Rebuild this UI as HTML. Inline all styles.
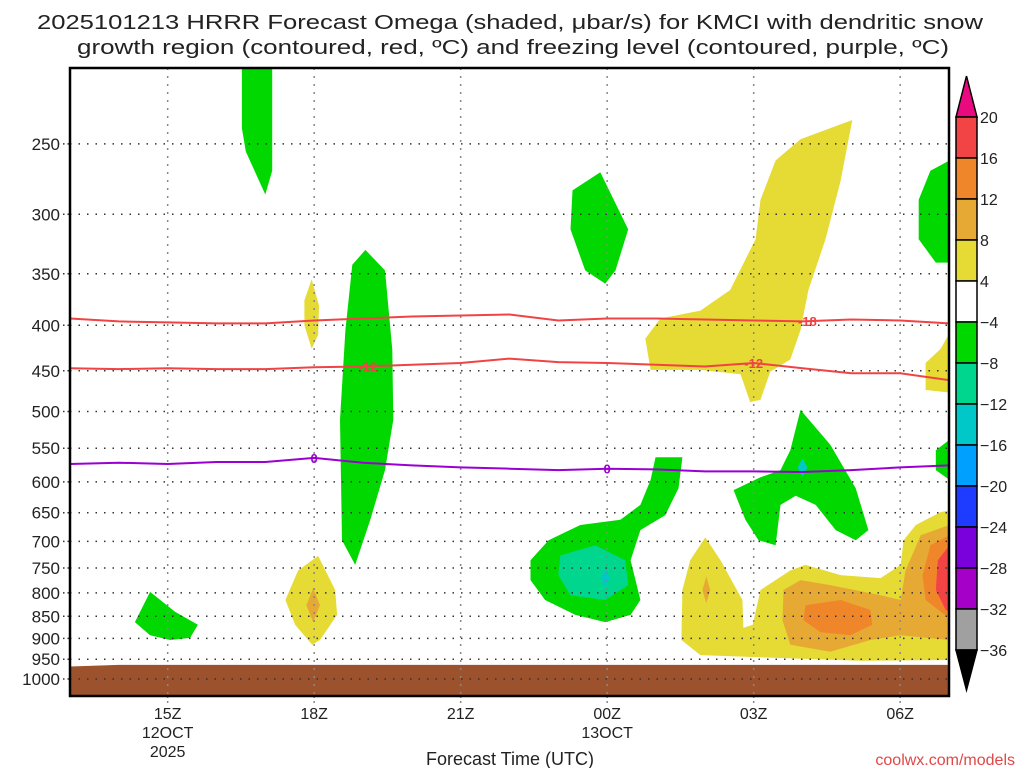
<!DOCTYPE html>
<html><head><meta charset="utf-8"><style>
html,body{margin:0;padding:0;background:#fff;}
svg{display:block;font-family:"Liberation Sans",sans-serif;}
</style></head><body>
<svg id="c" width="1024" height="768" viewBox="0 0 1024 768">
<text x="510" y="29" text-anchor="middle" font-size="20" fill="#222" textLength="946" lengthAdjust="spacingAndGlyphs">2025101213 HRRR Forecast Omega (shaded, μbar/s) for KMCI with dendritic snow</text>
<text x="513" y="54" text-anchor="middle" font-size="20" fill="#222" textLength="872" lengthAdjust="spacingAndGlyphs">growth region (contoured, red, ºC) and freezing level (contoured, purple, ºC)</text>
<text x="510" y="765" text-anchor="middle" font-size="18" fill="#222">Forecast Time (UTC)</text>
<text x="1015" y="765" text-anchor="end" font-size="16" fill="#e04848">coolwx.com/models</text>
<g id="plot"></g>
<g id="cbar"></g>
</svg>
<script>
// ---- data ----
const hours = [0,1,2,3,4,5,6,7,8,9,10,11,12,13,14,15,16,17,18];
const minus18Line = [393,396,397,398,398,395,393,391,390,389,395,393,393,394,395,396,394,395,398];
const minus12Line = [447,448,447,448,448,446,445,443,441,436,440,441,443,445,441,447,453,453,461];
const freezeLine = [573,571,573,570,570,564,571,575,578,580,582,580,581,584,584,585,582,578,575];
const surfaceP = [968,964,964,964,964,964,964,964,964,964,964,964,964,964,964,964,964,964,964];
const pTicks = [250,300,350,400,450,500,550,600,650,700,750,800,850,900,950,1000];
const xTickHours = [2,5,8,11,14,17];
const xTickLabels = [["15Z","12OCT","2025"],["18Z"],["21Z"],["00Z","13OCT"],["03Z"],["06Z"]];
const cbLevels = [20,16,12,8,4,-4,-8,-12,-16,-20,-24,-28,-32,-36];
const cbColors = ["#f24444","#f0862a","#e6aa34","#e6da34","#ffffff","#00d800","#00d68e","#00c8c8","#00a0ff","#1e3cff","#7a00dc","#a400c8","#a0a0a0"];
// shaded regions: [hour, pressure] pairs
const blobs = [
 {c:"#00d800",n:"green-top-strip",pts:[[3.52,205],[4.14,205],[4.14,268],[4.0,285],[3.6,255],[3.52,240]]},
 {c:"#00d800",n:"green-19z",pts:[[6.05,329],[6.45,347],[6.6,426],[6.62,511],[6.45,582],[6.15,662],[5.84,744],[5.57,698],[5.53,511],[5.64,405],[5.78,342]]},
 {c:"#e6da34",n:"yellow-18z-upper",pts:[[4.95,355],[5.1,380],[5.08,410],[4.95,425],[4.8,400],[4.8,375]]},
 {c:"#00d800",n:"green-00z-upper",pts:[[10.86,269],[11.43,312],[11.17,347],[10.96,359],[10.55,347],[10.25,312],[10.29,282]]},
 {c:"#e6da34",n:"yellow-03z-upper",pts:[[16.02,235],[15.78,275],[15.47,320],[15.12,365],[14.96,405],[14.75,437],[14.34,451],[14.14,485],[13.93,488],[13.73,454],[12.91,449],[11.89,449],[11.78,414],[12.09,393],[12.91,385],[13.52,365],[14.04,320],[14.14,289],[14.45,261],[14.96,247]]},
 {c:"#00d800",n:"green-06z-upper",pts:[[18.01,261],[17.62,268],[17.38,289],[17.38,320],[17.73,340],[18.01,340]]},
 {c:"#e6da34",n:"yellow-06z-mid",pts:[[18.01,408],[17.83,425],[17.52,441],[17.52,473],[18.01,476]]},
 {c:"#00d800",n:"green-04z",pts:[[14.96,498],[15.57,545],[16.09,610],[16.35,680],[16.09,698],[15.68,680],[15.27,637],[14.86,622],[14.55,637],[14.45,707],[14.10,698],[13.83,662],[13.59,613],[14.14,593],[14.55,582],[14.75,553]]},
 {c:"#00c8c8",n:"cyan-04z",pts:[[15.0,565],[15.1,578],[15.0,592],[14.9,578]]},
 {c:"#00d800",n:"green-06z-mid",pts:[[18.01,538],[17.73,553],[17.73,582],[18.01,597]]},
 {c:"#00d800",n:"green-00z-lower",pts:[[11.99,563],[12.54,563],[12.46,610],[12.19,654],[11.68,680],[11.48,735],[11.68,815],[11.48,847],[10.96,863],[10.35,847],[9.73,815],[9.43,774],[9.43,735],[9.80,698],[10.45,671],[11.27,662],[11.68,637],[11.89,597]]},
 {c:"#00d68e",n:"teal-00z",pts:[[10.04,726],[10.76,707],[11.37,735],[11.43,784],[10.96,815],[10.25,805],[10.0,764]]},
 {c:"#00c8c8",n:"cyan-00z",pts:[[10.96,750],[11.05,770],[10.96,790],[10.88,770]]},
 {c:"#e6da34",n:"yellow-18z-lower",pts:[[5.08,727],[5.43,794],[5.47,847],[5.12,904],[4.96,915],[4.61,869],[4.41,815],[4.67,755]]},
 {c:"#e6aa34",n:"orange-18z",pts:[[4.98,790],[5.12,826],[4.98,863],[4.84,826]]},
 {c:"#00d800",n:"green-15z",pts:[[1.64,798],[2.15,840],[2.62,869],[2.46,899],[2.05,904],[1.64,893],[1.33,863]]},
 {c:"#e6da34",n:"yellow-lower-right",pts:[[12.52,904],[12.54,794],[12.70,735],[13.01,693],[13.32,735],[13.77,815],[13.79,876],[13.98,869],[14.14,794],[14.75,755],[15.06,744],[15.78,764],[16.60,770],[17.01,744],[17.07,698],[17.32,671],[17.83,649],[18.01,646],[18.01,952],[16.19,954],[14.55,947],[12.91,940]]},
 {c:"#e6aa34",n:"orange-02z",pts:[[13.03,767],[13.11,794],[13.03,822],[12.95,794]]},
 {c:"#e6aa34",n:"light-orange-lower-right",pts:[[14.61,794],[14.96,774],[15.57,784],[16.60,805],[17.01,815],[17.11,755],[17.42,689],[18.01,671],[18.01,904],[17.01,893],[16.39,904],[15.57,932],[14.75,915],[14.59,859]]},
 {c:"#f0862a",n:"orange-05z",pts:[[15.06,826],[15.78,815],[16.39,836],[16.43,869],[15.98,893],[15.37,886],[15.02,859]]},
 {c:"#f0862a",n:"orange-07z",pts:[[18.01,689],[17.62,707],[17.46,764],[17.52,815],[17.83,840],[18.01,854]]},
 {c:"#f24444",n:"red-07z",pts:[[18.01,707],[17.77,735],[17.73,794],[17.93,836],[18.01,840]]}
];
// ---- axes ----
const X0=70, X1=949, Y0=68, Y1=696, H=18;
const PY=679, PK=386;
const xS = h => X0 + h*(X1-X0)/H;
const yS = p => PY + PK*Math.log(p/1000);
const NS="http://www.w3.org/2000/svg";
const plot=document.getElementById('plot');
function mk(tag,attrs,parent){const e=document.createElementNS(NS,tag);for(const k in attrs)e.setAttribute(k,attrs[k]);(parent||plot).appendChild(e);return e;}
const clip=mk('clipPath',{id:'pc'});mk('rect',{x:X0,y:Y0,width:X1-X0,height:Y1-Y0},clip);
const g=mk('g',{'clip-path':'url(#pc)'});


blobs.forEach(b=>{
  const e=mk('polygon',{points:b.pts.map(q=>xS(q[0]).toFixed(1)+','+yS(q[1]).toFixed(1)).join(' '),fill:b.c},g);
  
  
});
// ground
{
  let d='M'+xS(hours[0])+','+Y1;
  hours.forEach((h,i)=>{d+=' L'+xS(h)+','+yS(surfaceP[i]);});
  d+=' L'+X1+','+yS(surfaceP[surfaceP.length-1])+' L'+X1+','+Y1+' Z';
  const e=mk('path',{d:d,fill:'#9c522c'},g);
  
  
}
// grid
pTicks.forEach(p=>{
  const y=yS(p);
  const e=mk('line',{x1:X0,x2:X1,y1:y,y2:y,stroke:'#333','stroke-width':1.5,'stroke-dasharray':'1.5 7'},g);
  
  
  const t=mk('text',{x:60,y:y+6,'text-anchor':'end','font-size':17,fill:'#222'});
  t.textContent=p;
  
  
  mk('line',{x1:63,x2:69,y1:y,y2:y,stroke:'#333','stroke-width':1.5,'stroke-dasharray':'1.5 3'});
});
xTickHours.forEach((h,i)=>{
  const x=xS(h);
  const e=mk('line',{x1:x,x2:x,y1:Y0,y2:Y1,stroke:'#888','stroke-width':1.5,'stroke-dasharray':'2 6'},g);
  
  
  mk('line',{x1:x,x2:x,y1:Y1,y2:Y1+8,stroke:'#888','stroke-width':1.5,'stroke-dasharray':'2 3'});
  xTickLabels[i].forEach((s,j)=>{
    const t=mk('text',{x:x,y:719+j*19,'text-anchor':'middle','font-size':16,fill:'#222'});
    t.textContent=s;
    
    
  });
});
// contour lines
function drawContour(vals,color,name,labels,lab){
  const e=mk('polyline',{points:hours.map((h,i)=>xS(h).toFixed(1)+','+yS(vals[i]).toFixed(1)).join(' '),fill:'none',stroke:color,'stroke-width':2},g);
  
  
  labels.forEach(h=>{
    const i=Math.floor(h), f=h-i;
    const p=vals[i]+(vals[Math.min(i+1,vals.length-1)]-vals[i])*f;
    const x=xS(h), y=yS(p);
    const t=mk('text',{x:x,y:y+5,'text-anchor':'middle','font-size':13,'font-weight':'bold',fill:color},g);
    t.textContent=lab;
    
    
  });
}
drawContour(minus18Line,'#f04444','minus18-contour',[15.1],'-18');
drawContour(minus12Line,'#f04444','minus12-contour',[6.1,14.0],'-12');
drawContour(freezeLine,'#9a00d0','freezing-level-contour',[5.0,11.0],'0');
// frame
const fr=mk('rect',{x:X0,y:Y0,width:X1-X0,height:Y1-Y0,fill:'none',stroke:'#000','stroke-width':2.5});


// colorbar
const cb=document.getElementById('cbar');
const bx=956, bw=21, cbTop=117, step=(650-117)/13;
const tu=mk('polygon',{points:`${bx},${cbTop} ${bx+bw},${cbTop} ${bx+bw/2},76`,fill:'#ea0a80',stroke:'#000','stroke-width':1.5},cb);


cbColors.forEach((c,i)=>{
  const r=mk('rect',{x:bx,y:cbTop+i*step,width:bw,height:step,fill:c,stroke:'#000','stroke-width':1.5},cb);
  
  
});
const td=mk('polygon',{points:`${bx},650 ${bx+bw},650 ${bx+bw/2},690`,fill:'#000',stroke:'#000','stroke-width':1.5},cb);


cbLevels.forEach((v,i)=>{
  const t=mk('text',{x:980,y:cbTop+i*step+6,'font-size':16,fill:'#222'},cb);
  t.textContent=v<0?'\u2212'+(-v):String(v);
  
  
});
</script>
</body></html>
